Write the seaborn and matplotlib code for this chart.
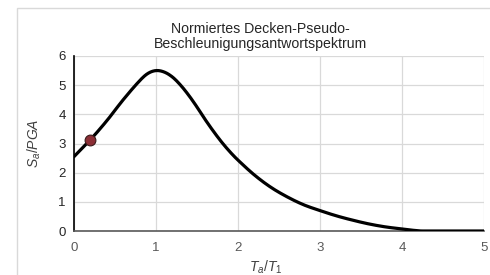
import numpy as np
import pandas as pd
import seaborn as sns
import matplotlib.pyplot as plt
from matplotlib.patches import Rectangle

# values
ratio_t = [0.0, 0.2, 0.4, 0.6, 0.8, 0.9, 1.0, 1.1, 1.2, 1.3, 1.4, 1.5, 1.6, 1.7, 1.8,
           1.9, 2.0, 2.2, 2.4, 2.6, 2.8, 3.0, 3.2, 3.4, 3.6, 3.8, 4.0, 4.15, 4.25, 5.0]
sa_pga = [2.55, 3.13, 3.78, 4.5, 5.15, 5.4, 5.5, 5.45, 5.28, 5.0, 4.65, 4.25, 3.82, 3.42, 3.05,
          2.72, 2.43, 1.92, 1.5, 1.17, 0.9, 0.7, 0.52, 0.37, 0.24, 0.14, 0.07, 0.02, 0.0, 0.0]
point_t = [0.19]
point_sa = [3.13]
x_ticks = [0, 1, 2, 3, 4, 5]
y_ticks = [0, 1, 2, 3, 4, 5, 6]

sns.set_style("white")
plt.rcParams['font.family'] = ['Liberation Sans', 'DejaVu Sans']
plt.rcParams['mathtext.fontset'] = 'custom'
plt.rcParams['mathtext.it'] = 'Liberation Sans:italic'
plt.rcParams['mathtext.rm'] = 'Liberation Sans'

# smooth the read points with a cubic Hermite spline
xs = np.array(ratio_t)
ys = np.array(sa_pga)
fine_x = []
fine_y = []
for i in range(len(xs) - 1):
    h = xs[i + 1] - xs[i]
    p1, p2 = ys[i], ys[i + 1]
    if i > 0:
        d1 = (ys[i + 1] - ys[i - 1]) / (xs[i + 1] - xs[i - 1])
    else:
        d1 = (p2 - p1) / h
    if i + 2 < len(xs):
        d2 = (ys[i + 2] - ys[i]) / (xs[i + 2] - xs[i])
    else:
        d2 = (p2 - p1) / h
    if p1 == p2:
        d1 = d2 = 0.0
    if p2 == 0.0:
        d2 = 0.0
    for t in np.linspace(0, 1, 12, endpoint=False):
        h00 = 2 * t**3 - 3 * t**2 + 1
        h10 = t**3 - 2 * t**2 + t
        h01 = -2 * t**3 + 3 * t**2
        h11 = t**3 - t**2
        fine_x.append(xs[i] + t * h)
        fine_y.append(max(h00 * p1 + h10 * h * d1 + h01 * p2 + h11 * h * d2, 0.0))
fine_x.append(xs[-1])
fine_y.append(ys[-1])
curve = pd.DataFrame({'t': fine_x, 'sa': fine_y})

fig = plt.figure(figsize=(4.9, 2.75), dpi=100)
ax = fig.add_axes([74 / 490, 1 - 231 / 275, 410 / 490, 175 / 275])

# outer chart frame
fig.patches.append(Rectangle((17 / 490, -0.1), 1.2, 1 - 8 / 275 + 0.1, transform=fig.transFigure,
                             fill=False, edgecolor='#d9d9d9', linewidth=1.0))

ax.grid(True, color='#d9d9d9', linewidth=0.9)
ax.set_axisbelow(True)
sns.lineplot(data=curve, x='t', y='sa', color='black', linewidth=2.3, ax=ax, zorder=3)
sns.scatterplot(x=point_t, y=point_sa, color='#8b2e35', edgecolor='#3a1a1a', s=60,
                linewidth=0.8, ax=ax, zorder=4)

ax.set_xlim(0, 5)
ax.set_ylim(0, 6)
ax.set_xticks(x_ticks)
ax.set_yticks(y_ticks)
ax.tick_params(axis='x', length=0, pad=8, labelsize=9.5, labelcolor='#595959')
ax.tick_params(axis='y', length=0, pad=6, labelsize=9.5, labelcolor='#262626')
for side in ['top', 'right']:
    ax.spines[side].set_visible(False)
ax.spines['left'].set_color('black')
ax.spines['left'].set_linewidth(1.2)
ax.spines['bottom'].set_color('#595959')
ax.spines['bottom'].set_linewidth(1.2)

ax.set_xlabel(r'$T_a/T_1$', fontsize=10, color='#404040', labelpad=3, x=0.468)
ax.set_ylabel(r'$S_a/PGA$', fontsize=10, color='#404040', labelpad=11)
ax.set_title('Normiertes Decken-Pseudo-\nBeschleunigungsantwortspektrum', fontsize=10.2,
             color='#262626', pad=6, linespacing=1.1, x=0.454)

fig.savefig('out.png', dpi=100)
